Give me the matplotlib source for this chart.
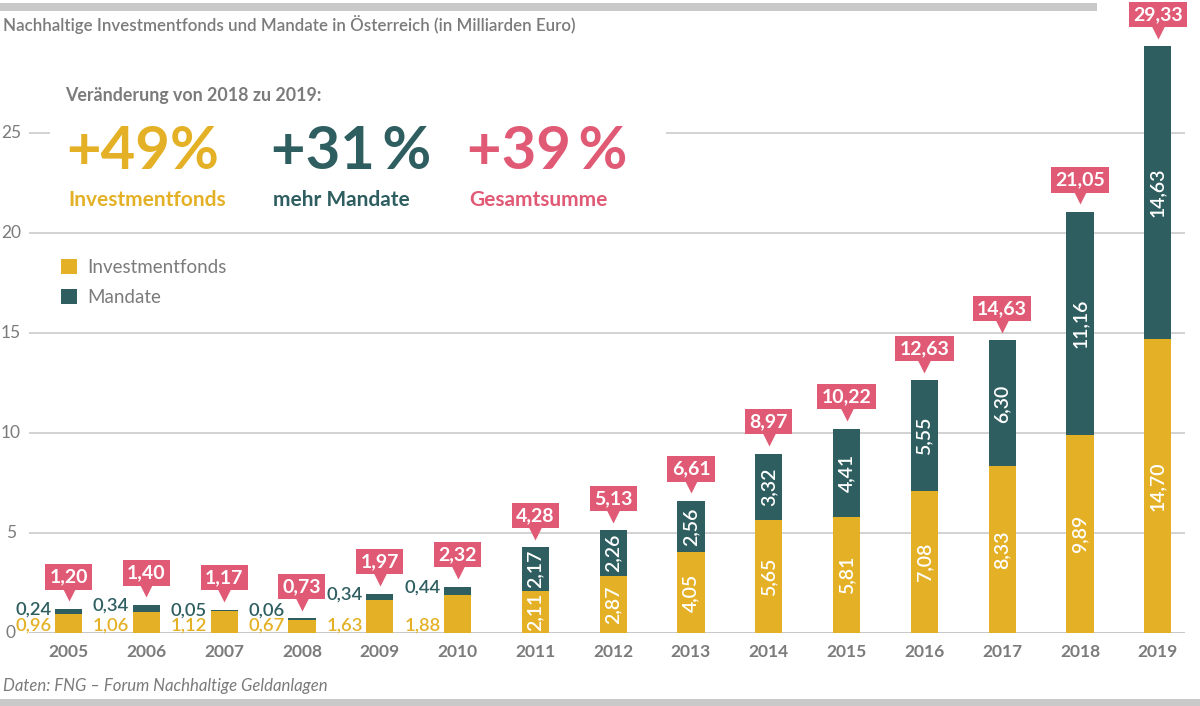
import matplotlib
matplotlib.use("Agg")
import matplotlib.pyplot as plt
from matplotlib.patches import Rectangle
from matplotlib import transforms as mtransforms

# ---- data ----
years = ["2005", "2006", "2007", "2008", "2009", "2010", "2011", "2012",
         "2013", "2014", "2015", "2016", "2017", "2018", "2019"]
fonds = [0.96, 1.06, 1.12, 0.67, 1.63, 1.88, 2.11, 2.87, 4.05, 5.65,
         5.81, 7.08, 8.33, 9.89, 14.70]
mandate = [0.24, 0.34, 0.05, 0.06, 0.34, 0.44, 2.17, 2.26, 2.56, 3.32,
           4.41, 5.55, 6.30, 11.16, 14.63]
totals = [1.20, 1.40, 1.17, 0.73, 1.97, 2.32, 4.28, 5.13, 6.61, 8.97,
          10.22, 12.63, 14.63, 21.05, 29.33]
y_ticks = [0, 5, 10, 15, 20, 25]

title = "Nachhaltige Investmentfonds und Mandate in Österreich (in Milliarden Euro)"
source = "Daten: FNG – Forum Nachhaltige Geldanlagen"
change_head = "Veränderung von 2018 zu 2019:"
changes = [("+49%", "Investmentfonds"), ("+31\u2009%", "mehr Mandate"), ("+39\u2009%", "Gesamtsumme")]
legend_labels = ["Investmentfonds", "Mandate"]

YELLOW = "#e4b126"
TEAL = "#2e5e60"
PINK = "#e05a75"
GRAY = "#7b7b7b"
GRID = "#d2d2d2"

plt.rcParams["font.family"] = ["Lato", "DejaVu Sans"]

W, H = 1200, 706
fig = plt.figure(figsize=(W / 100, H / 100), dpi=100)

def fx(px):
    return px / W

def fy(py):
    return 1 - py / H

ax = fig.add_axes([fx(29), 1 - 633 / H, 1156 / W, 633 / H])
ax.set_xlim(-0.508, 14.35)
ax.set_ylim(0, 31.65)
for s in ax.spines.values():
    s.set_visible(False)
ax.set_yticks(y_ticks)
ax.set_xticks([])
ax.tick_params(left=False, labelleft=False)
ax.yaxis.grid(True, color=GRID, lw=1.4)
ax.set_axisbelow(True)
ax.axhline(0, color="#c8c8c8", lw=2.0, zorder=1)

# y tick labels
ylab_tr = mtransforms.blended_transform_factory(fig.transFigure, ax.transData)
for t in y_ticks:
    ax.text(fx(11), t, str(t), transform=ylab_tr, ha="center", va="center",
            fontsize=12.5, color=GRAY)

x = list(range(len(years)))
bw = 0.35
ax.bar(x, fonds, width=bw, color=YELLOW, zorder=2, label=legend_labels[0])
ax.bar(x, mandate, width=bw, bottom=fonds, color=TEAL, zorder=2, label=legend_labels[1])

def fmt(v):
    return f"{v:.2f}".replace(".", ",")

# year labels
for i, yr in enumerate(years):
    ax.annotate(yr, (i, 0), xytext=(0, -13.5), textcoords="offset points",
                ha="center", va="center", fontsize=12.5, fontweight="bold", color=GRAY)

# segment labels
for i in x:
    if totals[i] < 3:
        ax.annotate(fmt(fonds[i]), (i - bw / 2, 0), xytext=(-2.5, 1.5), textcoords="offset points",
                    ha="right", va="baseline", fontsize=13.2, color=YELLOW, fontweight="semibold")
        ym = max(totals[i], 1.15)
        ax.annotate(fmt(mandate[i]), (i - bw / 2, ym), xytext=(-2.5, -0.5), textcoords="offset points",
                    ha="right", va="center", fontsize=13.2, color=TEAL, fontweight="semibold")
    else:
        ax.text(i, fonds[i] / 2, fmt(fonds[i]), rotation=90, ha="center", va="center",
                fontsize=14, color="white", fontweight="semibold", zorder=3)
        ax.text(i, fonds[i] + mandate[i] / 2, fmt(mandate[i]), rotation=90, ha="center",
                va="center", fontsize=14, color="white", fontweight="semibold", zorder=3)

# total callouts
for i in x:
    ax.annotate(fmt(totals[i]), (i, totals[i]), xytext=(0, 23), textcoords="offset points",
                ha="center", va="center", fontsize=14, fontweight="bold", color="white",
                bbox=dict(boxstyle="square,pad=0.22", fc=PINK, ec="none"), zorder=5)
    tr = mtransforms.offset_copy(ax.transData, fig=fig, x=0, y=10.5, units="points")
    ax.plot([i], [totals[i]], marker="v", ms=10, color=PINK, mec="none", transform=tr,
            zorder=4, clip_on=False)

# white panel behind the change block
fig.add_artist(Rectangle((fx(50), fy(216)), fx(666) - fx(50), fy(74) - fy(216),
                         transform=fig.transFigure, fc="white", ec="none", zorder=1.5))

fig.text(fx(65), fy(95), change_head, ha="left", va="center", fontsize=12.8,
         fontweight="bold", color=GRAY, zorder=3)
cols = [YELLOW, TEAL, PINK]
xs = [66, 271, 467]
for (big, small), c, px in zip(changes, cols, xs):
    fig.text(fx(px), fy(152), big, ha="left", va="center", fontsize=43,
             fontweight="bold", color=c, zorder=3)
    fig.text(fx(px + 2), fy(200), small, ha="left", va="center", fontsize=15,
             fontweight="bold", color=c, zorder=3)

# legend
leg = ax.legend(loc="upper left", bbox_to_anchor=(fx(61), fy(259)),
                bbox_transform=fig.transFigure, frameon=False, fontsize=13.5,
                handlelength=0.85, handleheight=0.85, handletextpad=0.55,
                labelspacing=0.7, borderpad=0, borderaxespad=0)
for t in leg.get_texts():
    t.set_color(GRAY)

# title, decorations, source
fig.text(fx(3), fy(25), title, ha="left", va="center", fontsize=12.2,
         fontweight="semibold", color=GRAY)
fig.add_artist(Rectangle((0, fy(11)), fx(1097), fy(3) - fy(11), transform=fig.transFigure,
                         fc="#c9c9c9", ec="none"))
fig.add_artist(Rectangle((0, 0), 1, fy(699), transform=fig.transFigure,
                         fc="#c9c9c9", ec="none"))
fig.text(fx(3), fy(686), source, ha="left", va="center", fontsize=12.1,
         style="italic", color=GRAY)

fig.savefig("out.png", dpi=100)
